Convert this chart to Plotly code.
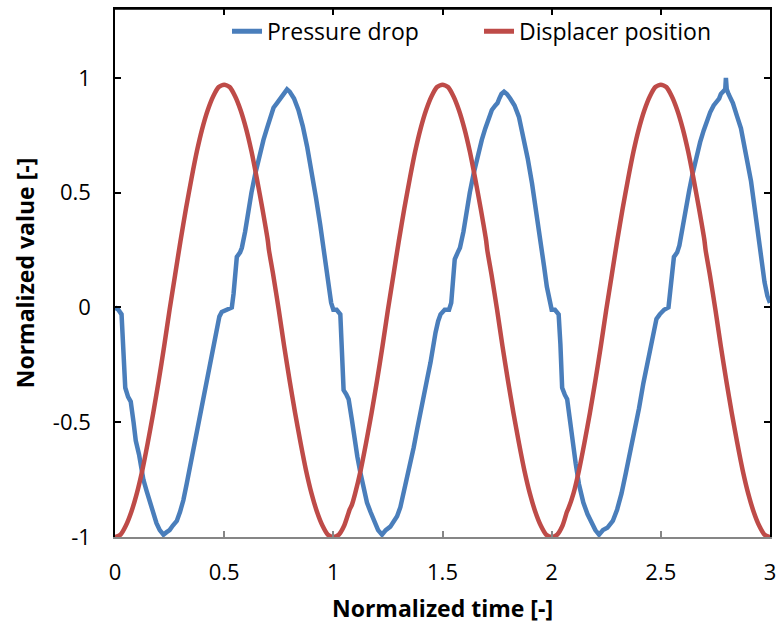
import plotly.graph_objects as go

# ---------------- data ----------------
t_pressure = [
    0.000, 0.015, 0.030, 0.038, 0.047, 0.060, 0.072, 0.085, 0.095, 0.110, 0.120, 0.130, 0.145, 0.160, 0.176,
    0.190, 0.205, 0.222, 0.235, 0.250, 0.265, 0.283, 0.298, 0.313, 0.328, 0.344, 0.360, 0.375, 0.390, 0.405,
    0.420, 0.436, 0.450, 0.466, 0.478, 0.489, 0.512, 0.535, 0.543, 0.550, 0.558, 0.573, 0.581, 0.596, 0.610,
    0.625, 0.642, 0.660, 0.680, 0.696, 0.712, 0.726, 0.742, 0.757, 0.772, 0.788, 0.800, 0.820, 0.840, 0.860,
    0.880, 0.900, 0.920, 0.940, 0.960, 0.975, 0.990,
    1.000, 1.015, 1.032, 1.040, 1.047, 1.060, 1.070, 1.085, 1.093, 1.110, 1.124, 1.140, 1.154, 1.170, 1.185,
    1.205, 1.223, 1.240, 1.261, 1.280, 1.292, 1.307, 1.322, 1.338, 1.353, 1.368, 1.384, 1.400, 1.414, 1.430,
    1.445, 1.458, 1.468, 1.480, 1.491, 1.510, 1.530, 1.540, 1.548, 1.556, 1.570, 1.580, 1.596, 1.610, 1.625,
    1.642, 1.660, 1.680, 1.696, 1.712, 1.726, 1.742, 1.752, 1.760, 1.770, 1.782, 1.795, 1.810, 1.830, 1.850,
    1.870, 1.890, 1.910, 1.930, 1.950, 1.965, 1.978, 1.990,
    2.000, 2.015, 2.032, 2.040, 2.048, 2.060, 2.071, 2.085, 2.095, 2.110, 2.125, 2.145, 2.164, 2.185, 2.200,
    2.217, 2.235, 2.255, 2.280, 2.300, 2.320, 2.340, 2.360, 2.380, 2.400, 2.420, 2.440, 2.455, 2.468, 2.480,
    2.495, 2.515, 2.535, 2.543, 2.550, 2.560, 2.575, 2.585, 2.600, 2.615, 2.630, 2.645, 2.660, 2.680, 2.696,
    2.712, 2.726, 2.742, 2.757, 2.767, 2.775, 2.785, 2.795, 2.798, 2.802, 2.810, 2.830, 2.850, 2.867, 2.885,
    2.900, 2.913, 2.930, 2.945, 2.960, 2.975, 2.988, 3.000,
]
pressure_drop = [
    0.00, -0.01, -0.03, -0.15, -0.35, -0.39, -0.41, -0.50, -0.58, -0.64, -0.70, -0.75, -0.80, -0.85, -0.90,
    -0.94, -0.97, -0.99, -0.98, -0.97, -0.95, -0.93, -0.89, -0.84, -0.77, -0.69, -0.62, -0.55, -0.47, -0.39,
    -0.31, -0.24, -0.17, -0.10, -0.04, -0.02, -0.01, 0.00, 0.06, 0.17, 0.22, 0.24, 0.26, 0.33, 0.42,
    0.50, 0.58, 0.66, 0.73, 0.78, 0.83, 0.87, 0.89, 0.91, 0.93, 0.95, 0.94, 0.91, 0.86, 0.79,
    0.70, 0.60, 0.48, 0.36, 0.22, 0.11, 0.02,
    -0.01, -0.01, -0.03, -0.17, -0.36, -0.38, -0.40, -0.49, -0.55, -0.65, -0.72, -0.79, -0.85, -0.89, -0.93,
    -0.97, -0.99, -0.97, -0.955, -0.93, -0.91, -0.87, -0.81, -0.75, -0.68, -0.61, -0.53, -0.46, -0.39, -0.31,
    -0.24, -0.16, -0.11, -0.06, -0.03, -0.01, -0.01, 0.02, 0.12, 0.21, 0.24, 0.26, 0.33, 0.42, 0.50,
    0.58, 0.66, 0.73, 0.78, 0.83, 0.86, 0.88, 0.89, 0.91, 0.93, 0.94, 0.93, 0.91, 0.88, 0.83,
    0.75, 0.65, 0.54, 0.42, 0.29, 0.18, 0.09, 0.02,
    -0.01, -0.01, -0.03, -0.16, -0.35, -0.38, -0.40, -0.50, -0.58, -0.68, -0.77, -0.85, -0.90, -0.94, -0.97,
    -0.99, -0.97, -0.96, -0.93, -0.88, -0.81, -0.72, -0.63, -0.54, -0.44, -0.33, -0.23, -0.15, -0.09, -0.05,
    -0.03, -0.01, 0.00, 0.07, 0.17, 0.22, 0.24, 0.27, 0.35, 0.44, 0.51, 0.58, 0.65, 0.72, 0.77,
    0.82, 0.85, 0.88, 0.90, 0.91, 0.93, 0.94, 0.95, 1.00, 0.95, 0.93, 0.89, 0.83, 0.78, 0.69,
    0.61, 0.55, 0.43, 0.32, 0.21, 0.11, 0.05, 0.02,
]

t_displacer = [
    0.000, 0.025, 0.050, 0.075, 0.100, 0.125, 0.150, 0.175, 0.200, 0.225, 0.250, 0.275, 0.300, 0.325, 0.350,
    0.375, 0.400, 0.425, 0.450, 0.475, 0.500, 0.525, 0.550, 0.575, 0.600, 0.625, 0.650, 0.675, 0.700, 0.705,
    0.725, 0.750, 0.775, 0.800, 0.825, 0.850, 0.875, 0.900, 0.925, 0.950, 0.975,
    1.000, 1.025, 1.050, 1.075, 1.085, 1.100, 1.125, 1.150, 1.175, 1.200, 1.225, 1.250, 1.275, 1.300, 1.325,
    1.350, 1.375, 1.400, 1.425, 1.450, 1.475, 1.500, 1.525, 1.550, 1.575, 1.600, 1.625, 1.650, 1.675, 1.700,
    1.705, 1.725, 1.750, 1.775, 1.800, 1.825, 1.850, 1.875, 1.900, 1.925, 1.950, 1.975,
    2.000, 2.025, 2.050, 2.070, 2.075, 2.100, 2.125, 2.150, 2.175, 2.200, 2.225, 2.250, 2.275, 2.300, 2.325,
    2.350, 2.375, 2.400, 2.425, 2.450, 2.475, 2.500, 2.525, 2.550, 2.575, 2.600, 2.625, 2.650, 2.675, 2.700,
    2.705, 2.725, 2.750, 2.775, 2.800, 2.825, 2.850, 2.875, 2.900, 2.925, 2.950, 2.975, 3.000,
]
displacer_position = [
    -1.00, -0.99, -0.95, -0.89, -0.81, -0.71, -0.59, -0.46, -0.32, -0.17, -0.01, 0.14, 0.29, 0.43, 0.56,
    0.68, 0.78, 0.86, 0.92, 0.96, 0.97, 0.96, 0.92, 0.86, 0.78, 0.68, 0.56, 0.43, 0.29, 0.25,
    0.14, -0.01, -0.17, -0.32, -0.46, -0.59, -0.71, -0.81, -0.89, -0.95, -0.99,
    -1.00, -0.99, -0.95, -0.88, -0.86, -0.81, -0.71, -0.59, -0.46, -0.32, -0.17, -0.01, 0.14, 0.29, 0.43,
    0.56, 0.68, 0.78, 0.86, 0.92, 0.96, 0.97, 0.96, 0.92, 0.86, 0.78, 0.68, 0.56, 0.43, 0.29,
    0.25, 0.14, -0.01, -0.17, -0.32, -0.46, -0.59, -0.71, -0.81, -0.89, -0.95, -0.99,
    -1.00, -0.99, -0.95, -0.89, -0.88, -0.81, -0.71, -0.59, -0.46, -0.32, -0.17, -0.01, 0.14, 0.29, 0.43,
    0.56, 0.68, 0.78, 0.86, 0.92, 0.96, 0.97, 0.96, 0.92, 0.86, 0.78, 0.68, 0.56, 0.43, 0.29,
    0.25, 0.14, -0.01, -0.17, -0.32, -0.46, -0.59, -0.71, -0.81, -0.89, -0.95, -0.99, -1.00,
]

x_tick_vals = [0, 0.5, 1, 1.5, 2, 2.5, 3]
x_tick_text = ["0", "0.5", "1", "1.5", "2", "2.5", "3"]
y_tick_vals = [-1, -0.5, 0, 0.5, 1]
y_tick_text = ["-1", "-0.5", "0", "0.5", "1"]

BLUE = "#4A7EBB"
RED = "#BE4B48"
FONT = "Open Sans"

fig = go.Figure()
fig.add_trace(go.Scatter(x=t_pressure, y=pressure_drop, mode="lines", name="Pressure drop",
                         line=dict(color=BLUE, width=4.5)))
fig.add_trace(go.Scatter(x=t_displacer, y=displacer_position, mode="lines", name="Displacer position",
                         line=dict(color=RED, width=4.5, shape="spline", smoothing=0.6)))
# helper trace (out of the visible range) so that the top mirror axis is drawn
fig.add_trace(go.Scatter(x=[0, 3], y=[-5, -5], xaxis="x2", mode="lines", line=dict(width=0),
                         showlegend=False, hoverinfo="skip"))

fig.update_layout(
    width=777, height=625,
    margin=dict(l=115, r=7, t=9, b=88, autoexpand=False),
    paper_bgcolor="white", plot_bgcolor="white",
    font=dict(family=FONT, size=22, color="black"),
    showlegend=True,
    legend=dict(orientation="h", x=0.171, xanchor="left", y=0.958, yanchor="middle",
                bgcolor="rgba(0,0,0,0)", font=dict(size=23), entrywidth=207, entrywidthmode="pixels",
                itemsizing="constant"),
    xaxis=dict(range=[0, 3], tickvals=x_tick_vals, ticktext=x_tick_text, ticks="inside", ticklen=6,
               tickcolor="#868686", tickwidth=1.5, showline=True, linecolor="#868686", linewidth=1.5,
               showgrid=False, zeroline=False, ticklabelstandoff=15, automargin=False,
               title=dict(text="<b>Normalized time [-]</b>", standoff=16, font=dict(size=23))),
    xaxis2=dict(range=[0, 3], overlaying="x", side="top", tickvals=x_tick_vals, ticks="inside", ticklen=6,
                tickcolor="black", tickwidth=1.5, showline=True, linecolor="black", linewidth=1.5,
                showticklabels=False, showgrid=False, zeroline=False, automargin=False),
    yaxis=dict(range=[-1, 1.3], tickvals=y_tick_vals, ticktext=y_tick_text, ticks="inside", ticklen=6,
               tickcolor="black", tickwidth=1.5, showline=True, linecolor="black", linewidth=1.5,
               mirror="ticks", showgrid=False, zeroline=False, ticklabelstandoff=18, automargin=False,
               title=dict(text="<b>Normalized value [-]</b>", standoff=12, font=dict(size=23))),
    shapes=[dict(type="line", xref="paper", yref="paper", x0=0, x1=1, y0=1, y1=1,
                 line=dict(color="black", width=1.5), layer="above")],
)

fig.write_html("out.html")
